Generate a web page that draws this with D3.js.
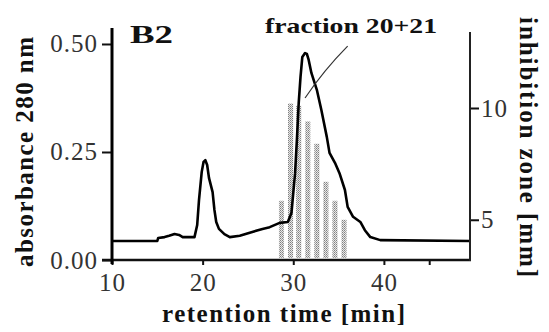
<!DOCTYPE html>
<html>
<head>
<meta charset="utf-8">
<script src="https://cdn.jsdelivr.net/npm/d3@7"></script>
<style>
  body { margin: 0; background: #fff; }
  svg { display: block; font-family: "Liberation Serif", "DejaVu Serif", serif; }
  .tick text { font-family: "Liberation Serif", serif; font-size: 25px; letter-spacing: 1px; fill: #333; }
  .lbl { font-family: "Liberation Serif", serif; font-weight: bold; fill: #111; }
</style>
</head>
<body>
<svg width="549" height="332"></svg>
<script>
(function() {

    // chromatogram, absorbance at 280 nm
    const retTime = [10, 15, 15.1, 15.8, 16.3, 16.9, 17.4, 17.8, 19.1, 19.4, 19.6, 19.9, 20.1, 20.3, 20.5, 20.7,
        21.1, 21.3, 21.5, 21.8, 22.4, 23.0, 24.1, 25.2, 26.1, 26.6, 27.4, 28.5, 29.4, 29.8, 30.2, 30.4,
        30.6, 30.8, 31.0, 31.3, 31.5, 31.7, 32.0, 32.6, 33.1, 33.7, 34.0, 34.6, 35.1, 35.7, 36.0, 36.6,
        37.4, 37.9, 38.5, 39.6, 49.5];
    const absorbance = [0.044, 0.044, 0.051, 0.053, 0.056, 0.060, 0.058, 0.053, 0.053, 0.081, 0.139, 0.204, 0.227, 0.231, 0.220, 0.190,
        0.157, 0.116, 0.088, 0.072, 0.060, 0.053, 0.056, 0.063, 0.069, 0.072, 0.076, 0.086, 0.088, 0.109, 0.201, 0.278,
        0.363, 0.424, 0.470, 0.479, 0.477, 0.463, 0.433, 0.394, 0.347, 0.285, 0.248, 0.225, 0.201, 0.162, 0.123, 0.100,
        0.088, 0.069, 0.053, 0.046, 0.044];

    // collected fractions, inhibition zone in mm
    const fracTime = [28.7, 29.7, 30.6, 31.6, 32.6, 33.6, 34.6, 35.6];
    const fracZone = [5.85, 10.2, 10.1, 9.4, 8.4, 6.7, 5.85, 5.0];

    const xTicks = [10, 20, 30, 40, 45];
    const xTickLabels = ['10', '20', '30', '40', ''];
    const leftTicks = [0, 0.25, 0.5];
    const rightTicks = [5, 10];

    const svg = d3.select('svg');

    const x = d3.scaleLinear().domain([10, 49.5]).range([112, 470]);
    const yL = d3.scaleLinear().domain([0, 0.537]).range([260, 28]);
    const yR = d3.scaleLinear().domain([3.2, 13.4]).range([260, 32]);

    // stippled fill for the bars
    const pat = svg.append('defs').append('pattern')
        .attr('id', 'dots')
        .attr('patternUnits', 'userSpaceOnUse')
        .attr('width', 2).attr('height', 2);
    pat.append('rect').attr('width', 2).attr('height', 2).attr('fill', '#e8e8e8');
    pat.append('rect').attr('width', 1).attr('height', 1).attr('fill', '#808080');
    pat.append('rect').attr('x', 1).attr('y', 1).attr('width', 1).attr('height', 1).attr('fill', '#a0a0a0');

    const bars = fracTime.map((t, i) => ({ t, v: fracZone[i] }));
    svg.append('g').selectAll('rect')
        .data(bars)
        .enter()
        .append('rect')
        .attr('x', d => x(d.t - 0.28))
        .attr('width', d => x(d.t + 0.28) - x(d.t - 0.28))
        .attr('y', d => yR(d.v))
        .attr('height', d => yR(3.2) - yR(d.v) - 2)
        .attr('fill', 'url(#dots)');

    // chromatogram line
    const pts = retTime.map((t, i) => [t, absorbance[i]]);
    svg.append('path')
        .datum(pts)
        .attr('fill', 'none')
        .attr('stroke', '#000')
        .attr('stroke-width', 2.6)
        .attr('stroke-linejoin', 'round')
        .attr('d', d3.line().x(d => x(d[0])).y(d => yL(d[1])));

    // axes
    const xAxis = svg.append('g')
        .attr('transform', 'translate(0,260)')
        .call(d3.axisBottom(x).tickValues(xTicks).tickFormat((d, i) => xTickLabels[i]).tickSize(5).tickPadding(8));
    xAxis.select('.domain').remove();

    const lAxis = svg.append('g')
        .attr('transform', 'translate(112,0)')
        .call(d3.axisLeft(yL).tickValues(leftTicks).tickFormat(d3.format('.2f')).tickSize(10).tickPadding(4));
    lAxis.select('.domain').remove();

    const rAxis = svg.append('g')
        .attr('transform', 'translate(470,0)')
        .call(d3.axisRight(yR).tickValues(rightTicks).tickSize(9).tickPadding(2));
    rAxis.select('.domain').remove();

    svg.selectAll('.tick line').attr('stroke', '#111').attr('stroke-width', 2);

    svg.append('line')
        .attr('x1', x(10) - 10).attr('x2', x.range()[1] + 1)
        .attr('y1', 260).attr('y2', 260)
        .attr('stroke', '#111').attr('stroke-width', 2.5);
    svg.append('line')
        .attr('x1', 112).attr('x2', 112)
        .attr('y1', yL.range()[1]).attr('y2', 264)
        .attr('stroke', '#000').attr('stroke-width', 3);
    svg.append('line')
        .attr('x1', 470).attr('x2', 470)
        .attr('y1', yR.range()[1]).attr('y2', 261)
        .attr('stroke', '#222').attr('stroke-width', 2);

    // annotation
    svg.append('path')
        .attr('fill', 'none')
        .attr('stroke', '#333')
        .attr('stroke-width', 1.2)
        .attr('d', `M${x(36.0)},${yL(0.495)} Q${x(33.4)},${yL(0.44)} ${x(31.3)},${yL(0.375)}`);

    svg.append('text').attr('class', 'lbl')
        .attr('x', 265).attr('y', 33)
        .attr('font-size', 22)
        .attr('textLength', 172).attr('lengthAdjust', 'spacingAndGlyphs')
        .text('fraction 20+21');

    svg.append('text').attr('class', 'lbl')
        .attr('x', 130).attr('y', 43)
        .attr('font-size', 26)
        .attr('textLength', 43).attr('lengthAdjust', 'spacingAndGlyphs')
        .text('B2');

    svg.append('text').attr('class', 'lbl')
        .attr('x', 162).attr('y', 322)
        .attr('font-size', 25)
        .attr('textLength', 243).attr('lengthAdjust', 'spacing')
        .text('retention time [min]');

    svg.append('text').attr('class', 'lbl')
        .attr('transform', 'translate(33,152) rotate(-90)')
        .attr('text-anchor', 'middle')
        .attr('font-size', 25)
        .attr('textLength', 230).attr('lengthAdjust', 'spacing')
        .text('absorbance 280 nm');

    svg.append('text').attr('class', 'lbl')
        .attr('transform', 'translate(520,147) rotate(90)')
        .attr('text-anchor', 'middle')
        .attr('font-size', 25)
        .attr('textLength', 260).attr('lengthAdjust', 'spacing')
        .text('inhibition zone [mm]');

})();
</script>
</body>
</html>
